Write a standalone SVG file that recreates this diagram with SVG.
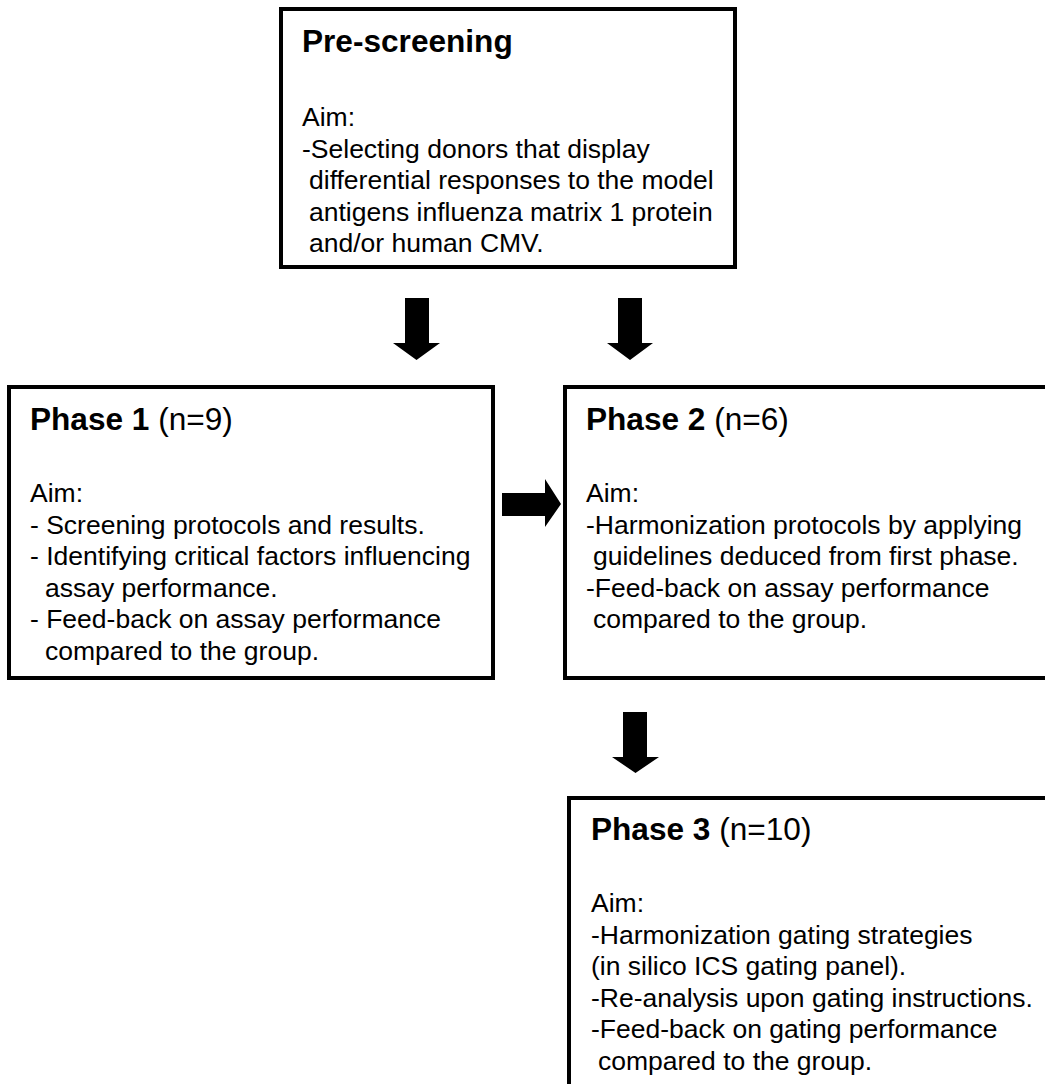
<svg xmlns="http://www.w3.org/2000/svg" width="1045" height="1084" viewBox="0 0 1045 1084">
<style>
.box{fill:#fff;stroke:#000;stroke-width:4}
.t{font-family:"Liberation Sans",Arial,sans-serif;font-size:31.6px;fill:#000}
.b{font-weight:bold}
.x{font-family:"Liberation Sans",Arial,sans-serif;font-size:26.5px;fill:#000}
.arrow{fill:#000}
</style>
<rect width="1045" height="1084" fill="#fff"/>
<g id="connectors">
<polygon class="arrow" points="405,298 429,298 429,343 440,343 416.5,360 393,343 405,343"/>
<polygon class="arrow" points="618,298 642,298 642,343 653,343 630,360 607,343 618,343"/>
<polygon class="arrow" points="623,712 647,712 647,757 659,757 635.5,773 612,757 623,757"/>
<polygon class="arrow" points="502,493 545,493 545,479 561,504 545,527 545,516 502,516"/>
</g>
<g id="prescreening">
<rect class="box" x="281" y="9" width="454" height="258"/>
<text class="t b" x="302" y="52">Pre-screening</text>
<text class="x" x="302" y="126">Aim:</text>
<text class="x" x="302" y="157.5">-Selecting donors that display</text>
<text class="x" x="309" y="189">differential responses to the model</text>
<text class="x" x="309" y="220.5">antigens influenza matrix 1 protein</text>
<text class="x" x="309" y="252">and/or human CMV.</text>
</g>
<g id="phase1">
<rect class="box" x="9" y="387" width="484" height="291"/>
<text class="t" x="30" y="430"><tspan class="b">Phase 1</tspan> (n=9)</text>
<text class="x" x="30" y="502">Aim:</text>
<text class="x" x="30" y="533.5">- Screening protocols and results.</text>
<text class="x" x="30" y="565">- Identifying critical factors influencing</text>
<text class="x" x="45" y="596.5">assay performance.</text>
<text class="x" x="30" y="628">- Feed-back on assay performance</text>
<text class="x" x="45" y="659.5">compared to the group.</text>
</g>
<g id="phase2">
<rect class="box" x="565" y="387" width="490" height="291"/>
<text class="t" x="586" y="430"><tspan class="b">Phase 2</tspan> (n=6)</text>
<text class="x" x="586" y="502">Aim:</text>
<text class="x" x="586" y="533.5">-Harmonization protocols by applying</text>
<text class="x" x="593" y="565">guidelines deduced from first phase.</text>
<text class="x" x="586" y="596.5">-Feed-back on assay performance</text>
<text class="x" x="593" y="628">compared to the group.</text>
</g>
<g id="phase3">
<rect class="box" x="569" y="798" width="490" height="300"/>
<text class="t" x="591" y="840"><tspan class="b">Phase 3</tspan> (n=10)</text>
<text class="x" x="591" y="912">Aim:</text>
<text class="x" x="591" y="943.5">-Harmonization gating strategies</text>
<text class="x" x="591" y="975">(in silico ICS gating panel).</text>
<text class="x" x="591" y="1006.5">-Re-analysis upon gating instructions.</text>
<text class="x" x="591" y="1038">-Feed-back on gating performance</text>
<text class="x" x="598" y="1069.5">compared to the group.</text>
</g>
</svg>
